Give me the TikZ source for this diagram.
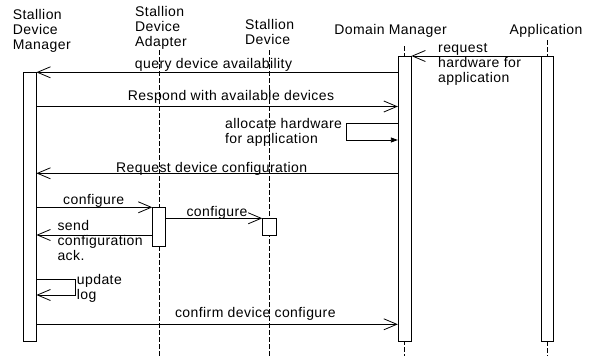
\documentclass[tikz,border=0pt]{standalone}
\usepackage{fontspec}
\setmainfont{Liberation Sans}[LetterSpace=3.0]
\usetikzlibrary{arrows.meta}

\begin{document}
\begin{tikzpicture}[x=1pt,y=-1pt,
  bar/.style={draw,fill=white,line width=0.8pt,anchor=north},
  life/.style={line width=0.7pt,dash pattern=on 5pt off 2pt},
  msg/.style={line width=0.8pt,-{Straight Barb[length=13pt,width=11pt]}},
  selfmsg/.style={line width=0.8pt,-{Triangle[length=7pt,width=5pt]}},
  lbl/.style={font=\fontsize{14}{15}\selectfont,align=left,anchor=base west},
  clbl/.style={font=\fontsize{14}{15}\selectfont,anchor=base}]
\tikzstyle{every node}+=[inner sep=0pt]
\useasboundingbox (0,0) rectangle (590,356);

\node[lbl] (sdmTitle) at (12.7,49) {Stallion\\Device\\Manager};
\node[lbl] (sdaTitle) at (135,46.7) {Stallion\\Device\\Adapter};
\node[lbl] (sdTitle) at (245,44.3) {Stallion\\Device};
\node[clbl] (dmTitle) at (390.5,34.3) {Domain Manager};
\node[clbl] (appTitle) at (546,34.3) {Application};

\coordinate (sdaTop) at (159.2,50);
\coordinate (sdTop) at (269.3,50);
\coordinate (dmTop) at (404.6,46);
\coordinate (appTop) at (547.5,40);
\draw[life] (sdaTop) -- (sdaTop |- 0,356);
\draw[life] (sdTop) -- (sdTop |- 0,356);
\draw[life] (dmTop) -- (dmTop |- 0,356);
\draw[life] (appTop) -- (appTop |- 0,356);

\node[bar,minimum width=12.7pt,minimum height=269pt] (sdmBar) at (29.65,72) {};
\node[bar,minimum width=13pt,minimum height=38.7pt] (sdaBar) at (sdaTop |- 0,207) {};
\node[bar,minimum width=13.3pt,minimum height=17.3pt] (sdBar) at (sdTop |- 0,217.7) {};
\node[bar,minimum width=12.7pt,minimum height=285pt] (dmBar) at (dmTop |- 0,56) {};
\node[bar,minimum width=11.6pt,minimum height=285pt] (appBar) at (appTop |- 0,56) {};

\draw[msg] (appBar.west |- 0,56) -- (dmBar.east |- 0,56);
\node[lbl] (reqHw) at (438,82) {request\\hardware for\\application};

\draw[msg] (dmBar.west |- 0,72.3) -- (sdmBar.east |- 0,72.3);
\node[clbl] (query) at (213.5,68.5) {query device availability};

\draw[msg] (sdmBar.east |- 0,106.5) -- (dmBar.west |- 0,106.5);
\node[clbl] (respond) at (231,100) {Respond with available devices};

\coordinate (allocTurn) at (346.7,140);
\draw[selfmsg] (dmBar.west |- 0,123.3) -| (allocTurn) -- (dmBar.west |- allocTurn);
\node[lbl] (alloc) at (225,143.3) {allocate hardware\\for application};

\draw[msg] (dmBar.west |- 0,173.3) -- (sdmBar.east |- 0,173.3);
\node[clbl] (reqConf) at (211.7,172) {Request device configuration};

\draw[msg] (sdmBar.east |- 0,207.3) -- (sdaBar.west |- 0,207.3);
\node[clbl] (conf1) at (93.7,204.5) {configure};

\draw[msg] (sdaBar.east |- 0,218.3) -- (sdBar.west |- 0,218.3);
\node[clbl] (conf2) at (217,216) {configure};

\draw[msg] (sdaBar.west |- 0,235) -- (sdmBar.east |- 0,235);
\node[lbl] (ack) at (57.3,260.7) {send\\configuration\\ack.};

\coordinate (logTurn) at (75,295);
\draw[msg] (sdmBar.east |- 0,279) -| (logTurn) -- (sdmBar.east |- logTurn);
\node[lbl] (updLog) at (76.7,299.3) {update\\log};

\draw[msg] (sdmBar.east |- 0,324.3) -- (dmBar.west |- 0,324.3);
\node[clbl] (confirm) at (255.3,317.3) {confirm device configure};
\end{tikzpicture}
\end{document}
